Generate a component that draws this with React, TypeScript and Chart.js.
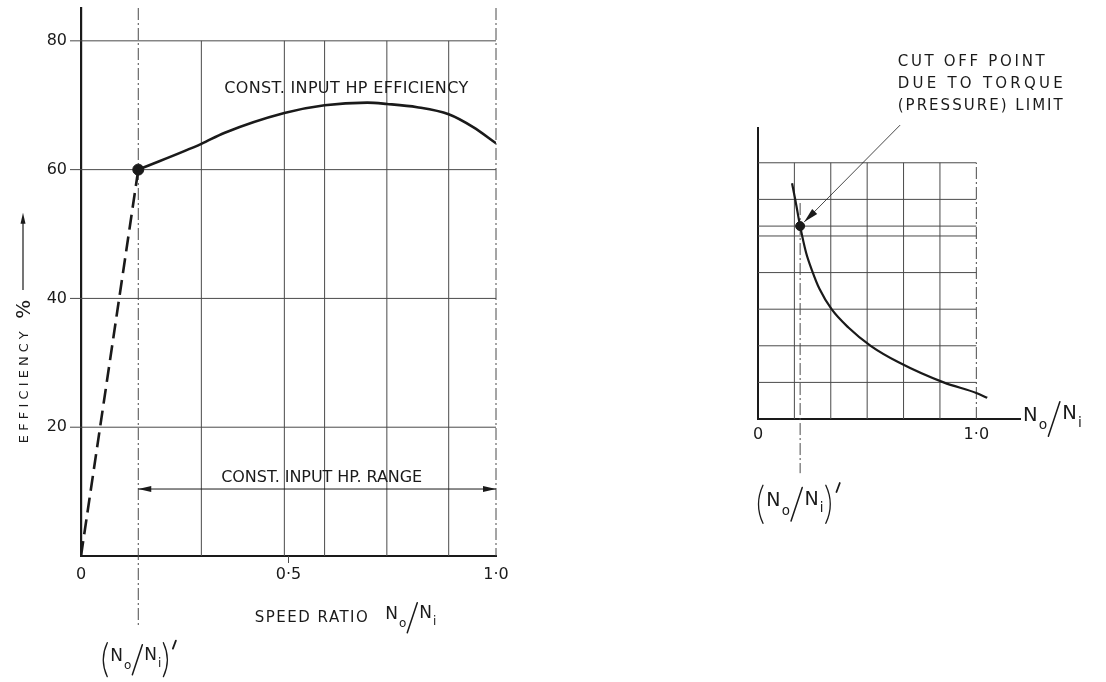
import React, { useEffect, useRef } from "react";
import { Chart, registerables } from "chart.js";
Chart.register(...registerables);

// ---------- Left chart data ----------
const effX = [0.138, 0.29, 0.345, 0.49, 0.587, 0.69, 0.737, 0.81, 0.886, 0.945, 1.0];
const effY = [60, 64, 65.7, 68.8, 70.0, 70.4, 70.2, 69.7, 68.6, 66.6, 64.1];
const startX = [0, 0.138];
const startY = [0, 60];
const ratioPrimeX = 0.138;
const ratioPrimeY = 60;
const leftYTicks = [20, 40, 60, 80];
const leftXTicks = [0, 0.5, 1.0];
const leftXTickLabels = ["0", "0·5", "1·0"];
const leftXGrid = [0.29, 0.49, 0.587, 0.737, 0.886];
const rangeY = 10.4;

// ---------- Right chart data ----------
const torqueX = [0.156, 0.172, 0.193, 0.22, 0.248, 0.282, 0.337, 0.414, 0.516, 0.644, 0.85, 1.0, 1.05];
const torqueY = [6.44, 5.95, 5.27, 4.55, 4.05, 3.55, 3.0, 2.5, 2.0, 1.55, 1.0, 0.71, 0.58];
const cutX = 0.193;
const cutY = 5.27;
const rightXTicks = [0, 1.0];
const rightXTickLabels = ["0", "1·0"];
const rightXGrid = [1 / 6, 2 / 6, 3 / 6, 4 / 6, 5 / 6];
const rightYGrid = [1, 2, 3, 4, 5, 6, 7];

const FONT = '"DejaVu Sans", "Liberation Sans", sans-serif';
const INK = "#1a1a1a";
const GRID = "#4a4a4a";

function seg(ctx: CanvasRenderingContext2D, x1: number, y1: number, x2: number, y2: number, w: number, color: string, dash: number[] = []) {
  ctx.save();
  ctx.strokeStyle = color;
  ctx.lineWidth = w;
  ctx.setLineDash(dash);
  ctx.beginPath();
  ctx.moveTo(x1, y1);
  ctx.lineTo(x2, y2);
  ctx.stroke();
  ctx.restore();
}

function head(ctx: CanvasRenderingContext2D, fx: number, fy: number, tx: number, ty: number, len: number, half: number) {
  const a = Math.atan2(ty - fy, tx - fx);
  ctx.save();
  ctx.fillStyle = INK;
  ctx.beginPath();
  ctx.moveTo(tx, ty);
  ctx.lineTo(tx - len * Math.cos(a) + half * Math.sin(a), ty - len * Math.sin(a) - half * Math.cos(a));
  ctx.lineTo(tx - len * Math.cos(a) - half * Math.sin(a), ty - len * Math.sin(a) + half * Math.cos(a));
  ctx.closePath();
  ctx.fill();
  ctx.restore();
}

function fitText(ctx: CanvasRenderingContext2D, text: string, cx: number, cy: number, width: number, size: number) {
  ctx.save();
  ctx.font = `${size}px ${FONT}`;
  (ctx as any).letterSpacing = "0px";
  const w = ctx.measureText(text).width;
  const n = Array.from(text).length;
  const ls = n > 1 ? (width - w) / (n - 1) : 0;
  (ctx as any).letterSpacing = `${ls}px`;
  ctx.fillStyle = INK;
  ctx.textAlign = "left";
  ctx.textBaseline = "middle";
  ctx.fillText(text, cx - width / 2, cy);
  ctx.restore();
}

// Draws N_o / N_i, optionally in parentheses with a prime (strokes for brackets/slash)
function drawRatio(ctx: CanvasRenderingContext2D, left: number, cy: number, s: number, parens: boolean) {
  ctx.save();
  ctx.fillStyle = INK;
  ctx.strokeStyle = INK;
  ctx.lineWidth = 1.3;
  ctx.lineCap = "round";
  ctx.textBaseline = "middle";
  ctx.textAlign = "left";
  let x = left;
  const txt = (t: string, size: number, dy: number, gap: number) => {
    ctx.font = `${size}px ${FONT}`;
    ctx.fillText(t, x, cy + dy);
    x += ctx.measureText(t).width + gap;
  };
  if (parens) {
    ctx.beginPath();
    ctx.moveTo(x + 7 * s, cy - 17 * s);
    ctx.quadraticCurveTo(x - 1 * s, cy, x + 7 * s, cy + 17 * s);
    ctx.stroke();
    x += 10 * s;
  }
  txt("N", 17 * s, -3 * s, 1 * s);
  txt("o", 12 * s, 6 * s, 0);
  ctx.lineWidth = 1.5;
  ctx.beginPath();
  ctx.moveTo(x + 1 * s, cy + 15 * s);
  ctx.lineTo(x + 11 * s, cy - 15 * s);
  ctx.stroke();
  x += 13 * s;
  txt("N", 17 * s, -4 * s, 1 * s);
  txt("i", 12 * s, 4 * s, 1 * s);
  if (parens) {
    ctx.lineWidth = 1.3;
    ctx.beginPath();
    ctx.moveTo(x + 1 * s, cy - 17 * s);
    ctx.quadraticCurveTo(x + 9 * s, cy, x + 1 * s, cy + 17 * s);
    ctx.stroke();
    x += 10 * s;
    ctx.lineWidth = 1.8;
    ctx.beginPath();
    ctx.moveTo(x + 0.5 * s, cy - 11 * s);
    ctx.lineTo(x + 3.5 * s, cy - 19 * s);
    ctx.stroke();
  }
  ctx.restore();
}

const leftDecor = {
  id: "leftDecor",
  beforeDatasetsDraw(chart: any) {
    const { ctx, scales } = chart;
    const xs = scales.x, ys = scales.y;
    const X = (v: number) => xs.getPixelForValue(v);
    const Y = (v: number) => ys.getPixelForValue(v);
    for (const v of leftYTicks) seg(ctx, X(0) - 11, Y(v), X(1), Y(v), 1, GRID);
    for (const v of leftXGrid) seg(ctx, X(v), Y(0), X(v), Y(80), 1, GRID);
    seg(ctx, X(0.5), Y(0), X(0.5), Y(0) + 7, 1, GRID);
    seg(ctx, X(ratioPrimeX), ys.top, X(ratioPrimeX), Y(-11), 1, GRID, [12, 3, 2, 3]);
    seg(ctx, X(1), ys.top, X(1), Y(0), 1, GRID, [12, 3, 2, 3]);
  },
  afterDraw(chart: any) {
    const { ctx, scales } = chart;
    const xs = scales.x, ys = scales.y;
    const X = (v: number) => xs.getPixelForValue(v);
    const Y = (v: number) => ys.getPixelForValue(v);
    fitText(ctx, "CONST. INPUT HP EFFICIENCY", X(0.639), Y(72.5), 244, 16);
    const ry = Y(rangeY);
    seg(ctx, X(ratioPrimeX), ry, X(1), ry, 1, INK);
    head(ctx, X(0.3), ry, X(ratioPrimeX), ry, 13, 3);
    head(ctx, X(0.9), ry, X(1), ry, 13, 3);
    fitText(ctx, "CONST. INPUT HP. RANGE", X(0.58), Y(12.1), 201, 16);
    // y title
    const tx = xs.left - 56;
    ctx.save();
    ctx.translate(tx, Y(28.7));
    ctx.rotate(-Math.PI / 2);
    fitText(ctx, "EFFICIENCY", -16, 0, 112, 13);
    ctx.font = `20px ${FONT}`;
    ctx.fillStyle = INK;
    ctx.textBaseline = "middle";
    ctx.textAlign = "center";
    ctx.fillText("%", 62, 0);
    ctx.restore();
    seg(ctx, tx - 2, Y(41.3), tx - 2, Y(53.3) + 8, 1.2, INK);
    head(ctx, tx - 2, Y(41.3), tx - 2, Y(53.3), 11, 2.5);
    // x title
    fitText(ctx, "SPEED RATIO", X(0.555), Y(-9.6), 113, 15);
    drawRatio(ctx, X(0.733), Y(-9.6), 1.0, false);
    // (No/Ni)'
    drawRatio(ctx, X(ratioPrimeX) - 38, Y(-16.1), 1.0, true);
  },
};

const rightDecor = {
  id: "rightDecor",
  beforeDatasetsDraw(chart: any) {
    const { ctx, scales } = chart;
    const xs = scales.x, ys = scales.y;
    const X = (v: number) => xs.getPixelForValue(v);
    const Y = (v: number) => ys.getPixelForValue(v);
    for (const v of rightYGrid) seg(ctx, X(0), Y(v), X(1), Y(v), 1, GRID);
    seg(ctx, X(0), Y(cutY), X(1), Y(cutY), 1, GRID);
    for (const v of rightXGrid) seg(ctx, X(v), Y(0), X(v), Y(7), 1, GRID);
    seg(ctx, X(1), Y(0), X(1), Y(7), 1, GRID, [12, 3, 2, 3]);
    seg(ctx, X(cutX), Y(5.9), X(cutX), Y(-1.48), 1, GRID, [12, 3, 2, 3]);
  },
  afterDraw(chart: any) {
    const { ctx, scales } = chart;
    const xs = scales.x;
    const ys = scales.y;
    const X = (v: number) => xs.getPixelForValue(v);
    const Y = (v: number) => ys.getPixelForValue(v);
    const lx = X(0.64);
    const lines = [
      { t: "CUT OFF POINT", y: 9.75, w: 147 },
      { t: "DUE TO TORQUE", y: 9.16, w: 165 },
      { t: "(PRESSURE) LIMIT", y: 8.55, w: 165 },
    ];
    for (const l of lines) fitText(ctx, l.t, lx + l.w / 2, Y(l.y), l.w, 15);
    const fx = X(0.651), fy = Y(8.03);
    const tx = X(cutX) + 4, ty = Y(cutY) - 4;
    seg(ctx, fx, fy, tx, ty, 0.8, INK);
    head(ctx, fx, fy, tx, ty, 15, 3.5);
    drawRatio(ctx, xs.right + 3, Y(0), 1.15, false);
    drawRatio(ctx, X(cutX) - 45, Y(-2.33), 1.12, true);
  },
};

function commonScaleX(min: number, max: number, ticks: number[], labels: string[], height: number, pad: number) {
  return {
    type: "linear",
    min,
    max,
    grid: { display: false, drawTicks: false },
    border: { display: true, color: INK, width: 2 },
    afterBuildTicks: (s: any) => { s.ticks = ticks.map((v) => ({ value: v })); },
    afterFit: (s: any) => { s.height = height; s.paddingLeft = 0; s.paddingRight = 0; },
    ticks: {
      padding: pad,
      color: INK,
      font: { family: FONT, size: 16 },
      maxRotation: 0,
      autoSkip: false,
      callback: (v: any) => { const i = ticks.indexOf(Number(v)); return i >= 0 ? labels[i] : ""; },
    },
  };
}

function LeftChart() {
  const ref = useRef<HTMLCanvasElement | null>(null);
  useEffect(() => {
    if (!ref.current) return;
    const chart = new Chart(ref.current, {
      type: "line",
      data: {
        datasets: [
          {
            data: effX.map((x, i) => ({ x, y: effY[i] })),
            borderColor: INK, borderWidth: 2.6, pointRadius: 0, cubicInterpolationMode: "monotone", fill: false,
          },
          {
            data: startX.map((x, i) => ({ x, y: startY[i] })),
            borderColor: INK, borderWidth: 2.6, borderDash: [15, 7], pointRadius: 0, fill: false,
          },
          {
            data: [{ x: ratioPrimeX, y: ratioPrimeY }],
            showLine: false, pointRadius: 5.5, pointBackgroundColor: INK, pointBorderColor: INK,
          },
        ],
      } as any,
      options: {
        responsive: false,
        animation: false,
        events: [],
        layout: { padding: { left: 0, top: 8, right: 144, bottom: 0 } },
        plugins: { legend: { display: false }, tooltip: { enabled: false }, title: { display: false } },
        scales: {
          x: commonScaleX(0, 1, leftXTicks, leftXTickLabels, 126, 9) as any,
          y: {
            type: "linear",
            min: 0,
            max: 85.1,
            grid: { display: false, drawTicks: false },
            border: { display: true, color: INK, width: 2.2 },
            afterBuildTicks: (s: any) => { s.ticks = leftYTicks.map((v) => ({ value: v })); },
            afterFit: (s: any) => { s.width = 81; s.paddingTop = 0; s.paddingBottom = 0; },
            ticks: { padding: 14, color: INK, font: { family: FONT, size: 16 } },
          },
        },
      } as any,
      plugins: [leftDecor],
    });
    return () => chart.destroy();
  }, []);
  return <canvas ref={ref} width={640} height={682} style={{ position: "absolute", left: 0, top: 0 }} />;
}

function RightChart() {
  const ref = useRef<HTMLCanvasElement | null>(null);
  useEffect(() => {
    if (!ref.current) return;
    const chart = new Chart(ref.current, {
      type: "line",
      data: {
        datasets: [
          {
            data: torqueX.map((x, i) => ({ x, y: torqueY[i] })),
            borderColor: INK, borderWidth: 2.2, pointRadius: 0, cubicInterpolationMode: "monotone", fill: false,
          },
          {
            data: [{ x: cutX, y: cutY }],
            showLine: false, pointRadius: 4.5, pointBackgroundColor: INK, pointBorderColor: INK,
          },
        ],
      } as any,
      options: {
        responsive: false,
        animation: false,
        events: [],
        layout: { padding: { left: 0, top: 128, right: 86, bottom: 0 } },
        plugins: { legend: { display: false }, tooltip: { enabled: false }, title: { display: false } },
        scales: {
          x: commonScaleX(0, 1.2, rightXTicks, rightXTickLabels, 263, 6) as any,
          y: {
            type: "linear",
            min: 0,
            max: 7.95,
            grid: { display: false, drawTicks: false },
            border: { display: true, color: INK, width: 2 },
            afterFit: (s: any) => { s.width = 118; s.paddingTop = 0; s.paddingBottom = 0; },
            ticks: { display: false },
          },
        },
      } as any,
      plugins: [rightDecor],
    });
    return () => chart.destroy();
  }, []);
  return <canvas ref={ref} width={466} height={682} style={{ position: "absolute", left: 640, top: 0 }} />;
}

export default function App() {
  return (
    <div style={{ position: "absolute", left: 0, top: 0, width: 1106, height: 682, background: "#fff", overflow: "hidden" }}>
      <LeftChart />
      <RightChart />
    </div>
  );
}
